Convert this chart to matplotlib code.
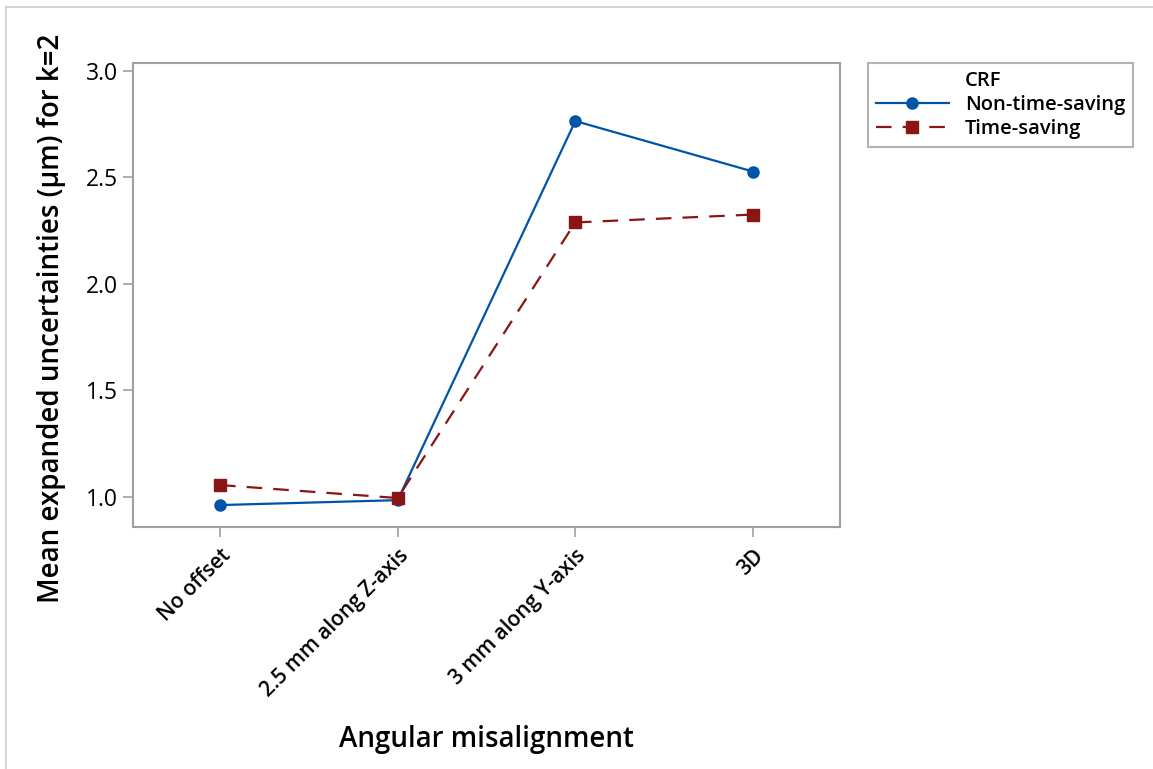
import matplotlib.pyplot as plt
from matplotlib.lines import Line2D

# interaction plot data: mean expanded uncertainty (k=2) per misalignment case
categories = ["No offset", "2.5 mm along Z-axis", "3 mm along Y-axis", "3D"]
non_time_saving = [0.962, 0.985, 2.765, 2.528]
time_saving = [1.056, 0.995, 2.289, 2.326]
yticks = [1.0, 1.5, 2.0, 2.5, 3.0]

plt.rcParams['font.family'] = ['Open Sans', 'DejaVu Sans']

fig = plt.figure(figsize=(11.53, 7.69), dpi=100)
ax = fig.add_axes([133/1153, 1-527/769, (840-133)/1153, (527-63)/769])

x = range(len(categories))
ax.plot(x, non_time_saving, color="#0054a6", lw=1.6, marker="o", ms=8,
        label="Non-time-saving")
ax.plot(x, time_saving, color="#8b1414", lw=1.6, ls=(0, (7, 5)), marker="s", ms=8,
        label="Time-saving")

ax.set_xlim(-0.49, 3.49)
ax.set_ylim(0.859, 3.0375)
ax.set_yticks(yticks)
ax.set_yticklabels([f"{v:.1f}" for v in yticks], fontsize=16.5)
ax.set_xticks(list(x))
ax.set_xticklabels(categories, rotation=45, ha="right", rotation_mode="anchor",
                   fontsize=15, fontweight="semibold")

for s in ax.spines.values():
    s.set_color("#a0a0a0")
    s.set_linewidth(1.5)
ax.tick_params(colors="#a0a0a0", length=7, width=1.2, labelcolor="black")
ax.tick_params(axis="x", pad=6)

ax.set_ylabel("Mean expanded uncertainties (µm) for k=2", fontsize=20,
              fontweight="semibold")
ax.yaxis.set_label_coords(-0.095, 0.45)
ax.set_xlabel("Angular misalignment", fontsize=20, fontweight="semibold")
ax.xaxis.set_label_coords(0.5, (527-725)/(527-63), transform=ax.transAxes)

handles = [Line2D([], [], color="none", label="CRF")] + ax.get_legend_handles_labels()[0]
labels = ["CRF", "Non-time-saving", "Time-saving"]
leg = ax.legend(handles, labels, loc="upper left", bbox_to_anchor=(868/1153, 1-63/769),
                bbox_transform=fig.transFigure, fontsize=14.5, frameon=True,
                fancybox=False, borderpad=0.4, handlelength=3.6, labelspacing=0.2,
                borderaxespad=0)
leg.get_frame().set_edgecolor("#a0a0a0")
leg.get_frame().set_linewidth(1.5)
for t in leg.get_texts():
    t.set_fontweight("semibold")

# light frame lines on the left and top of the figure
fig.add_artist(Line2D([6/1153, 6/1153], [0, 1-7/769], color="#cccccc", lw=1.2,
                      transform=fig.transFigure))
fig.add_artist(Line2D([6/1153, 1], [1-7/769, 1-7/769], color="#cccccc", lw=1.2,
                      transform=fig.transFigure))

fig.savefig("out.png", dpi=100, facecolor="white")
